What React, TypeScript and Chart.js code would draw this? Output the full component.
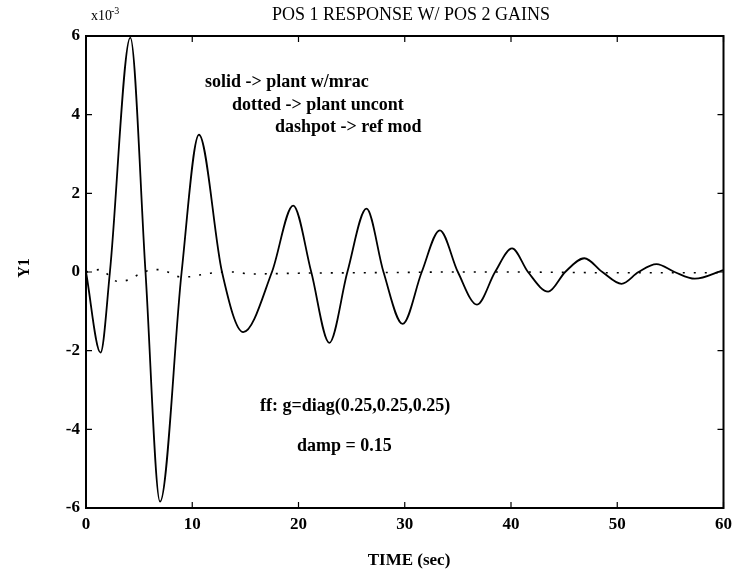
import React, { useEffect, useRef } from "react";
import { Chart, registerables } from "chart.js";

Chart.register(...registerables);

// Values in units of x10^-3
const solidTime = [0, 1.37, 2.25, 4.17, 5.6, 6.97, 9.0, 10.63, 12.8, 14.8, 17.5, 19.5, 21.2, 22.9, 24.6, 26.4, 28.0, 29.8, 31.6, 33.3, 35.0, 36.8, 38.5, 40.1, 41.6, 43.5, 45.1, 46.9, 48.6, 50.4, 52.0, 53.7, 55.4, 57.3, 60];
const solidY1 = [0, -2.05, 0, 5.96, 0, -5.84, 0, 3.49, 0, -1.53, 0, 1.69, 0, -1.8, 0, 1.61, 0, -1.32, 0, 1.06, 0, -0.83, 0, 0.6, 0, -0.5, 0, 0.35, 0, -0.3, 0, 0.2, 0, -0.17, 0.05];

const dottedTime = [0, 1.3, 3.0, 4.0, 4.9, 5.8, 6.8, 7.7, 8.8, 9.7, 10.8, 11.7, 13.7, 15.6, 20, 25, 30, 35, 40, 45, 50, 55, 60];
const dottedY1 = [0, 0.06, -0.24, -0.2, -0.07, 0.03, 0.06, 0.0, -0.12, -0.12, -0.07, -0.03, 0.0, -0.05, -0.03, -0.02, -0.01, 0.0, 0.0, -0.01, -0.02, -0.02, -0.02];

const xTicks = [0, 10, 20, 30, 40, 50, 60];
const yTicks = [-6, -4, -2, 0, 2, 4, 6];

const titleText = "POS 1 RESPONSE W/ POS 2 GAINS";
const xTitle = "TIME (sec)";
const yTitle = "Y1";
const notesTop = ["solid -> plant w/mrac", "dotted -> plant uncont", "dashpot -> ref mod"];
const notesBottom = ["ff: g=diag(0.25,0.25,0.25)", "damp = 0.15"];

const SERIF = '"Liberation Serif", "Times New Roman", serif';

const overlay = {
  id: "overlay",
  afterDraw(chart: any) {
    const { ctx, chartArea: a, scales } = chart;
    const xs = scales.x;
    const ys = scales.y;
    ctx.save();
    ctx.strokeStyle = "#000";
    ctx.lineWidth = 2;
    ctx.strokeRect(a.left, a.top, a.right - a.left, a.bottom - a.top);
    ctx.lineWidth = 1.2;
    ctx.beginPath();
    xTicks.forEach((v) => {
      const px = xs.getPixelForValue(v);
      ctx.moveTo(px, a.bottom);
      ctx.lineTo(px, a.bottom - 6);
      ctx.moveTo(px, a.top);
      ctx.lineTo(px, a.top + 6);
    });
    yTicks.forEach((v) => {
      const py = ys.getPixelForValue(v);
      ctx.moveTo(a.left, py);
      ctx.lineTo(a.left + 6, py);
      ctx.moveTo(a.right, py);
      ctx.lineTo(a.right - 6, py);
    });
    ctx.stroke();

    ctx.fillStyle = "#000";
    ctx.textBaseline = "middle";
    ctx.textAlign = "center";
    ctx.font = `18px ${SERIF}`;
    ctx.fillText(titleText, 411, 15);

    ctx.textAlign = "left";
    ctx.font = `14px ${SERIF}`;
    ctx.fillText("x10", 91, 16);
    ctx.font = `10px ${SERIF}`;
    ctx.fillText("-3", 111, 11);

    ctx.textAlign = "center";
    ctx.font = `bold 17px ${SERIF}`;
    ctx.fillText(xTitle, 409, 561);
    ctx.save();
    ctx.translate(25, 268);
    ctx.rotate(-Math.PI / 2);
    ctx.font = `bold 16px ${SERIF}`;
    ctx.fillText(yTitle, 0, 0);
    ctx.restore();

    ctx.textAlign = "left";
    ctx.font = `bold 18px ${SERIF}`;
    ctx.fillText(notesTop[0], 205, 82);
    ctx.fillText(notesTop[1], 232, 105);
    ctx.fillText(notesTop[2], 275, 127);
    ctx.fillText(notesBottom[0], 260, 406);
    ctx.fillText(notesBottom[1], 297, 446);
    ctx.restore();
  },
};

export default function App() {
  const ref = useRef<HTMLCanvasElement>(null);
  useEffect(() => {
    if (!ref.current) return;
    const chart = new Chart(ref.current, {
      type: "line",
      data: {
        datasets: [
          {
            label: "plant w/mrac",
            data: solidTime.map((t, i) => ({ x: t, y: solidY1[i] })),
            borderColor: "#000",
            borderWidth: 1.8,
            pointRadius: 0,
            cubicInterpolationMode: "monotone",
            fill: false,
          },
          {
            label: "plant uncont",
            data: dottedTime.map((t, i) => ({ x: t, y: dottedY1[i] })),
            borderColor: "#000",
            borderWidth: 1.6,
            borderDash: [2, 9],
            pointRadius: 0,
            cubicInterpolationMode: "monotone",
            fill: false,
          },
        ],
      },
      options: {
        responsive: false,
        animation: false,
        layout: { padding: { top: 36, right: 9, left: 0, bottom: 0 } },
        plugins: { legend: { display: false }, tooltip: { enabled: false }, title: { display: false } },
        scales: {
          x: {
            type: "linear",
            min: 0,
            max: 60,
            afterBuildTicks: (s: any) => {
              s.ticks = xTicks.map((v) => ({ value: v }));
            },
            afterFit: (s: any) => {
              s.height = 70;
            },
            grid: { display: false, drawTicks: false },
            border: { display: false },
            ticks: {
              color: "#000",
              padding: 6,
              maxRotation: 0,
              autoSkip: false,
              font: { family: SERIF, size: 17, weight: "bold" },
            },
          },
          y: {
            type: "linear",
            min: -6,
            max: 6,
            afterBuildTicks: (s: any) => {
              s.ticks = yTicks.map((v) => ({ value: v }));
            },
            afterFit: (s: any) => {
              s.width = 86;
            },
            grid: { display: false, drawTicks: false },
            border: { display: false },
            ticks: {
              color: "#000",
              padding: 6,
              autoSkip: false,
              font: { family: SERIF, size: 17, weight: "bold" },
            },
          },
        },
      },
      plugins: [overlay],
    });
    return () => chart.destroy();
  }, []);
  return (
    <div style={{ position: "fixed", left: 0, top: 0, width: 738, height: 578, background: "#fff" }}>
      <canvas ref={ref} width={738} height={578} />
    </div>
  );
}
